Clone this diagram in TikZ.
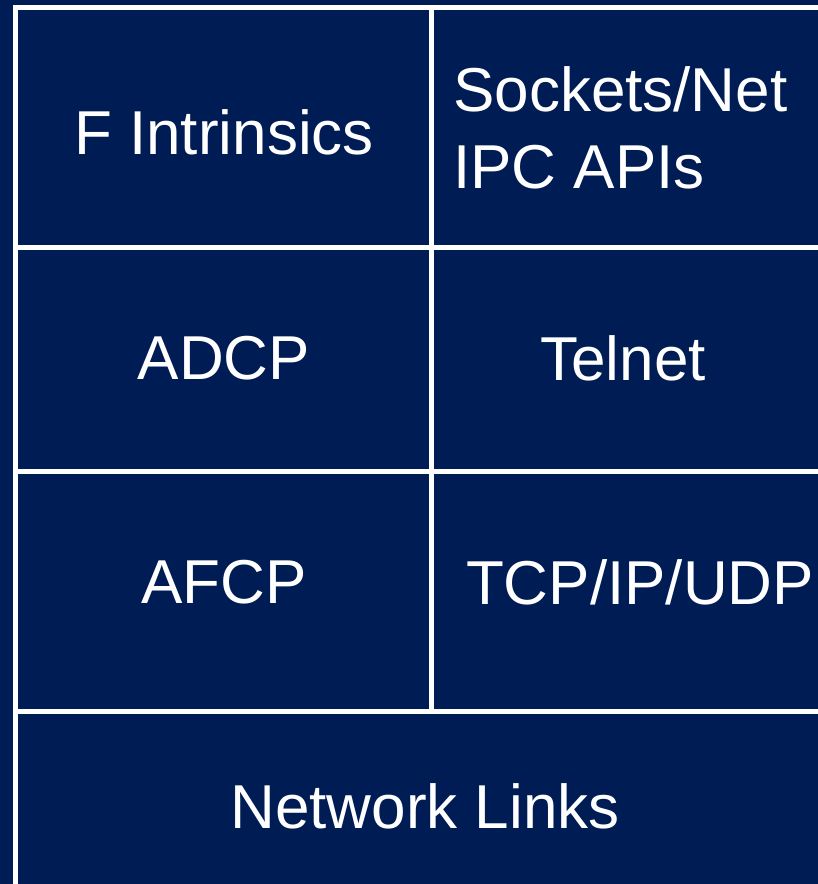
\documentclass[tikz,border=0pt]{standalone}
\usepackage{fontspec}
\setmainfont{Liberation Sans}
\definecolor{navy}{RGB}{0,28,84}

\begin{document}
\begin{tikzpicture}[
    x=1pt, y=1pt,
    every node/.style={font=\fontsize{62}{77}\selectfont, text=white, inner sep=0pt},
    grid/.style={draw=white, line width=5pt}
]

% =========================================================
% Background
% =========================================================

\fill[navy] (0,0) rectangle (818,-884);
\useasboundingbox (0,0) rectangle (818,-884);

% =========================================================
% Table lines
% =========================================================

\draw[grid] (15.5,-920) -- (15.5,-7.5) -- (850,-7.5);
\draw[grid] (431,-7.5) -- (431,-711.5);
\draw[grid] (15.5,-247.5) -- (850,-247.5);
\draw[grid] (15.5,-471) -- (850,-471);
\draw[grid] (15.5,-711.5) -- (850,-711.5);

% =========================================================
% Left column
% =========================================================

\node (intr) at (224,-132) {F Intrinsics};
\node (adcp) at (224,-358) {ADCP};
\node (afcp) at (224,-582) {AFCP};

% =========================================================
% Right column
% =========================================================

\node[anchor=west, align=left] (sock) at (453,-128) {Sockets/Net\\IPC APIs};
\node (telnet) at (623,-358) {Telnet};
\node (tcpip) at (640,-582) {TCP/IP/UDP};

% =========================================================
% Bottom row
% =========================================================

\node (links) at (425,-806) {Network Links};

\end{tikzpicture}
\end{document}
